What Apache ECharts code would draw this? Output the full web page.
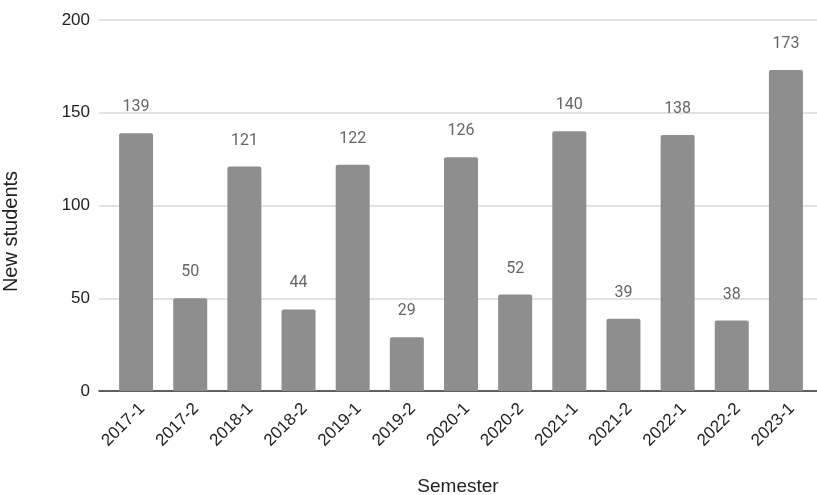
<!DOCTYPE html>
<html>
<head>
<meta charset="utf-8">
<script src="https://cdn.jsdelivr.net/npm/echarts@6/dist/echarts.min.js"></script>
<style>
  html, body { margin: 0; padding: 0; background: #fff; }
  #chart { width: 817px; height: 495px; }
</style>
</head>
<body>
<div id="chart"></div>
<script>
// New students per semester
const semesters = ['2017-1', '2017-2', '2018-1', '2018-2', '2019-1', '2019-2', '2020-1',
                   '2020-2', '2021-1', '2021-2', '2022-1', '2022-2', '2023-1'];
const newStudents = [139, 50, 121, 44, 122, 29, 126, 52, 140, 39, 138, 38, 173];
const yTicks = { min: 0, max: 200, interval: 50 };

const chart = echarts.init(document.getElementById('chart'), null, { renderer: 'canvas' });

const axisFont = 'Liberation Sans, Arial, sans-serif';

chart.setOption({
  backgroundColor: '#ffffff',
  animation: false,
  // grid 0 carries the gridlines, the baseline and the axis titles;
  // grid 1 carries the bars and the category labels
  grid: [
    { left: 99, right: 0, top: 20, bottom: 104, containLabel: false, outerBoundsMode: 'none' },
    { left: 109, right: 4, top: 20, bottom: 104, containLabel: false, outerBoundsMode: 'none' }
  ],
  xAxis: [
    {
      gridIndex: 0,
      type: 'category',
      data: [''],
      name: 'Semester',
      nameLocation: 'middle',
      nameGap: 86,
      nameTextStyle: { fontFamily: axisFont, fontSize: 19, color: '#222' },
      axisLine: { show: true, lineStyle: { color: '#333', width: 1.5 } },
      axisTick: { show: false },
      axisLabel: { show: false }
    },
    {
      gridIndex: 1,
      type: 'category',
      data: semesters,
      axisLine: { show: false },
      axisTick: { show: false },
      axisLabel: {
        rotate: 45,
        interval: 0,
        margin: 9,
        verticalAlign: 'top',
        fontFamily: axisFont,
        fontSize: 17,
        color: '#222'
      }
    }
  ],
  yAxis: [
    {
      gridIndex: 0,
      type: 'value',
      min: yTicks.min,
      max: yTicks.max,
      interval: yTicks.interval,
      name: 'New students',
      nameLocation: 'middle',
      nameGap: 78,
      nameTextStyle: { fontFamily: axisFont, fontSize: 20, color: '#222', padding: [0, 52, 0, 0] },
      axisLine: { show: false },
      axisTick: { show: false },
      axisLabel: { fontFamily: axisFont, fontSize: 17, color: '#222', margin: 9 },
      splitLine: { show: true, lineStyle: { color: '#d9d9d9', width: 1.5 } }
    },
    {
      gridIndex: 1,
      type: 'value',
      min: yTicks.min,
      max: yTicks.max,
      interval: yTicks.interval,
      show: false
    }
  ],
  series: [
    {
      type: 'bar',
      xAxisIndex: 1,
      yAxisIndex: 1,
      data: newStudents,
      barWidth: 34,
      itemStyle: { color: '#8e8e8e', borderRadius: [2, 2, 0, 0] },
      label: {
        show: true,
        position: 'top',
        distance: 18,
        fontFamily: 'Roboto, sans-serif',
        fontSize: 16,
        color: '#666'
      },
      z: 1
    }
  ]
});
</script>
</body>
</html>
